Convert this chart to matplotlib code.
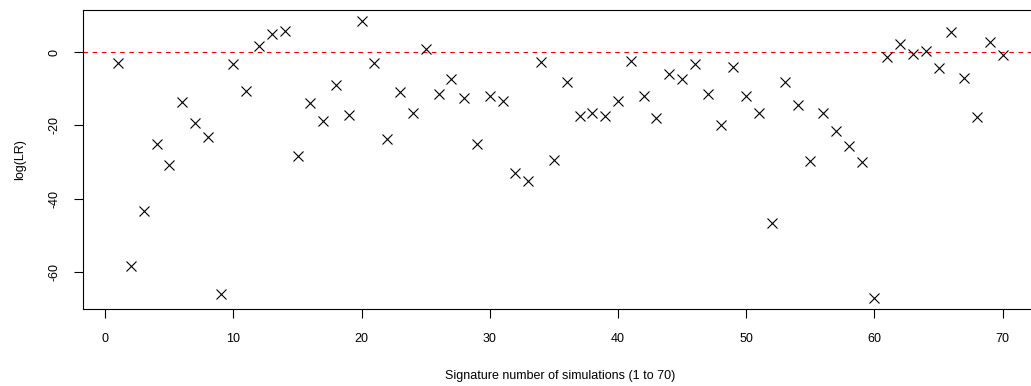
import matplotlib
matplotlib.use("Agg")
import matplotlib.pyplot as plt

plt.rcParams['font.family'] = ['Liberation Sans', 'DejaVu Sans']
plt.rcParams['lines.scale_dashes'] = False

sim_index = list(range(1, 71))
log_lr = [
    -3.0, -58.3, -43.3, -25.2, -30.7, -13.6, -19.3, -23.1, -65.9, -3.3,
    -10.5, 1.8, 4.9, 5.75, -28.3, -13.9, -18.8, -9.0, -17.2, 8.4,
    -3.0, -23.8, -11.0, -16.5, 0.9, -11.5, -7.3, -12.6, -25.2, -11.9,
    -13.3, -33.1, -35.2, -2.7, -29.5, -8.1, -17.5, -16.5, -17.3, -13.4,
    -2.3, -12.0, -17.9, -5.9, -7.4, -3.2, -11.3, -20.0, -4.0, -11.9,
    -16.5, -46.7, -8.1, -14.5, -29.7, -16.5, -21.4, -25.7, -30.1, -67.1,
    -1.2, 2.1, -0.5, 0.4, -4.4, 5.4, -7.0, -17.8, 2.9, -0.8,
]
x_ticks = [0, 10, 20, 30, 40, 50, 60, 70]
y_ticks = [-60, -40, -20, 0]
x_label = "Signature number of simulations (1 to 70)"
y_label = "log(LR)"

W, H = 1031, 386
fig = plt.figure(figsize=(W / 100, H / 100), dpi=100)
left_px, right_px, top_px, bottom_px = 82.7, 1038.0, 10.3, 309.0
ax = fig.add_axes([left_px / W, 1 - bottom_px / H,
                   (right_px - left_px) / W, (bottom_px - top_px) / H])

ax.scatter(sim_index, log_lr, marker='x', s=7.2 ** 2, c='black', linewidths=0.8, zorder=3)
ax.axhline(0, color='#FF0000', linewidth=0.8, dashes=(3.3, 3.3), zorder=2)

xmin, xmax = min(sim_index), max(sim_index)
xr = xmax - xmin
ax.set_xlim(xmin - 0.04 * xr, xmax + 0.04 * xr)
ymin, ymax = min(log_lr), max(log_lr)
yr = ymax - ymin
ax.set_ylim(ymin - 0.04 * yr, ymax + 0.04 * yr)

ax.set_xticks(x_ticks)
ax.set_yticks(y_ticks)
ax.set_yticklabels([str(v) for v in y_ticks], rotation=90, va='center')
ax.tick_params(axis='both', direction='out', length=6.3, width=0.8, labelsize=9, colors='black')
ax.tick_params(axis='x', pad=11)
ax.tick_params(axis='y', pad=9.5)
for s in ax.spines.values():
    s.set_linewidth(0.8)
    s.set_color('black')

ax.set_xlabel(x_label, fontsize=9, labelpad=18)
ax.set_ylabel(y_label, fontsize=9, labelpad=16)

fig.savefig("out.png", dpi=100)
